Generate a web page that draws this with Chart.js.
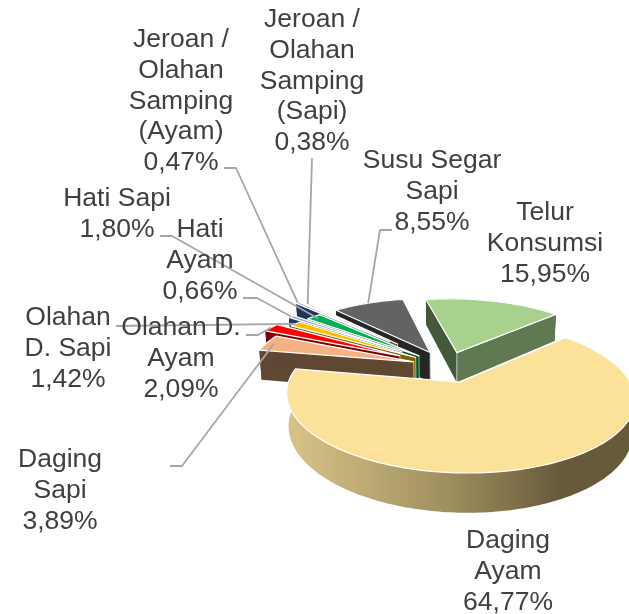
<!DOCTYPE html>
<html>
<head>
<meta charset="utf-8">
<style>
  html, body { margin: 0; padding: 0; background: #fff; }
  #wrap { width: 629px; height: 614px; }
</style>
<script src="https://cdn.jsdelivr.net/npm/chart.js@4"></script>
</head>
<body>
<div id="wrap"><canvas id="pie"></canvas></div>
<script>
// values, clockwise from the first slice
const categories = ['Telur Konsumsi', 'Daging Ayam', 'Daging Sapi', 'Olahan D. Ayam', 'Olahan D. Sapi',
  'Hati Ayam', 'Hati Sapi', 'Jeroan / Olahan Samping (Ayam)', 'Jeroan / Olahan Samping (Sapi)', 'Susu Segar Sapi'];
const shares = [15.95, 64.77, 3.89, 2.09, 1.42, 0.66, 1.80, 0.47, 0.38, 8.55];

// how each category name is broken over lines in the label
const nameLines = [
  ['Telur', 'Konsumsi'], ['Daging', 'Ayam'], ['Daging', 'Sapi'], ['Olahan D.', 'Ayam'], ['Olahan', 'D. Sapi'],
  ['Hati', 'Ayam'], ['Hati Sapi'], ['Jeroan /', 'Olahan', 'Samping', '(Ayam)'], ['Jeroan /', 'Olahan', 'Samping', '(Sapi)'],
  ['Susu Segar', 'Sapi']
];

// slice styling
const topColors  = ['#A9D18E', '#FBE298', '#F4B183', '#FF0000', '#FFC000', '#8FAADC', '#00B050', '#8FAADC', '#F4B183', '#636363'];
const wallColors = ['#43593A', null, '#604732', '#7F0000', '#7F6000', '#203864', '#00582A', '#1F3457', '#7A4A2A', '#262626'];
const endWallColors = ['#5F7A52', null, '#604732', '#7F0000', '#7F6000', '#203864', '#00582A', '#1F3457', '#7A4A2A', '#262626'];
const explode = [36, 38, 35, 54, 38, 58, 38, 87, 76, 38];
const paintOrder = [0, 9, 8, 7, 6, 5, 4, 3, 2, 1]; // far slices first

// label centres (first line) and leader line starts, same order as categories
const labelPos = [[545, 213], [508, 541], [60, 460], [181, 328], [68, 318], [200, 230], [117, 199], [181, 40], [312, 20], [432, 161]];
const leaders = [
  null, null,
  { from: [[170, 466], [182, 466]], r: 0.95 },
  { from: [[246, 335], [258, 335]], r: 1.0 },
  { from: [[116, 326]], r: 1.0 },
  { from: [[243, 298], [257, 298]], r: 1.0 },
  { from: [[160, 236], [172, 236]], r: 0.95 },
  { from: [[224, 168], [236, 168]], r: 1.0 },
  { from: [[312, 158]], r: 1.0 },
  { from: [[392, 230], [380, 230]], r: 1.0 }
];

// camera: squash, perspective and skew of the pie plane
const SQUASH = 0.415, PERSP = 0.18, SKEW = 6, DEPTH = 31;
const LINE_H = 30.6;

function project(arc, a, r) {
  const R = arc.outerRadius;
  const mid = (arc.startAngle + arc.endAngle) / 2;
  const off = arc.options.offset / R;
  const pu = off * Math.cos(mid) + r * Math.cos(a);
  const pv = off * Math.sin(mid) + r * Math.sin(a);
  const w = 1 - PERSP * pv;
  return {
    x: arc.x + R * pu / w + SKEW * pv,
    y: arc.y + R * SQUASH * pv / w,
    w: w
  };
}

function dropped(arc, p) {
  // bottom face of the slab, slightly pulled in
  return { x: arc.x + (p.x - arc.x) * 0.988, y: p.y + DEPTH / p.w };
}

function polygon(ctx, pts) {
  ctx.beginPath();
  pts.forEach((p, i) => i ? ctx.lineTo(p.x, p.y) : ctx.moveTo(p.x, p.y));
  ctx.closePath();
}

function rimPoints(arc) {
  const steps = Math.max(4, Math.ceil((arc.endAngle - arc.startAngle) / 0.02));
  const pts = [];
  for (let i = 0; i <= steps; i++) {
    pts.push(project(arc, arc.startAngle + (arc.endAngle - arc.startAngle) * i / steps, 1));
  }
  return pts;
}

function drawSlice(ctx, arc, idx) {
  const rim = rimPoints(arc);
  const apex = project(arc, 0, 0);
  const first = rim[0], last = rim[rim.length - 1];

  // outer wall
  let wallFill = wallColors[idx];
  if (!wallFill) {
    wallFill = ctx.createLinearGradient(288, 0, 630, 0);
    wallFill.addColorStop(0, '#D8C487');
    wallFill.addColorStop(0.45, '#A29160');
    wallFill.addColorStop(0.8, '#675A3B');
    wallFill.addColorStop(1, '#675A3B');
  }
  ctx.fillStyle = wallFill;
  polygon(ctx, rim.concat(rim.map(p => dropped(arc, p)).reverse()));
  ctx.fill();

  // radial faces
  ctx.fillStyle = wallColors[idx] || '#675A3B';
  polygon(ctx, [apex, first, dropped(arc, first), dropped(arc, apex)]);
  ctx.fill();
  ctx.fillStyle = endWallColors[idx] || '#675A3B';
  polygon(ctx, [apex, last, dropped(arc, last), dropped(arc, apex)]);
  ctx.fill();
  ctx.strokeStyle = 'rgba(255,255,255,0.55)';
  ctx.lineWidth = 1;
  ctx.beginPath();
  ctx.moveTo(apex.x, apex.y);
  ctx.lineTo(dropped(arc, apex).x, dropped(arc, apex).y);
  ctx.stroke();

  // top face
  ctx.fillStyle = arc.options.backgroundColor;
  polygon(ctx, [apex].concat(rim));
  ctx.fill();
  ctx.strokeStyle = arc.options.borderColor;
  ctx.lineWidth = arc.options.borderWidth;
  ctx.lineJoin = 'round';
  ctx.stroke();
}

const slabPlugin = {
  id: 'slab',
  beforeDatasetDraw(chart) {
    const arcs = chart.getDatasetMeta(0).data;
    paintOrder.forEach(i => drawSlice(chart.ctx, arcs[i], i));
    return false;
  },
  afterDatasetsDraw(chart) {
    const ctx = chart.ctx;
    const arcs = chart.getDatasetMeta(0).data;

    // leader lines
    ctx.strokeStyle = '#A6A6A6';
    ctx.lineWidth = 1.8;
    leaders.forEach((l, i) => {
      if (!l) return;
      const arc = arcs[i];
      const end = project(arc, (arc.startAngle + arc.endAngle) / 2, l.r);
      ctx.beginPath();
      l.from.forEach((p, j) => j ? ctx.lineTo(p[0], p[1]) : ctx.moveTo(p[0], p[1]));
      ctx.lineTo(end.x, end.y);
      ctx.stroke();
    });

    // labels
    ctx.fillStyle = '#404040';
    ctx.font = '26.5px "Liberation Sans", Arial, sans-serif';
    ctx.textAlign = 'center';
    ctx.textBaseline = 'middle';
    shares.forEach((v, i) => {
      const lines = nameLines[i].concat(v.toFixed(2).replace('.', ',') + '%');
      lines.forEach((t, j) => ctx.fillText(t, labelPos[i][0], labelPos[i][1] + j * LINE_H));
    });
  }
};

new Chart(document.getElementById('pie'), {
  type: 'pie',
  data: {
    labels: categories,
    datasets: [{
      data: shares,
      backgroundColor: topColors,
      borderColor: '#FFFFFF',
      borderWidth: 1.2,
      offset: explode
    }]
  },
  options: {
    responsive: true,
    maintainAspectRatio: false,
    animation: false,
    rotation: -10,
    radius: 164,
    layout: { padding: { left: 265, top: 118.6 } },
    plugins: { legend: { display: false }, tooltip: { enabled: false } }
  },
  plugins: [slabPlugin]
});
</script>
</body>
</html>
